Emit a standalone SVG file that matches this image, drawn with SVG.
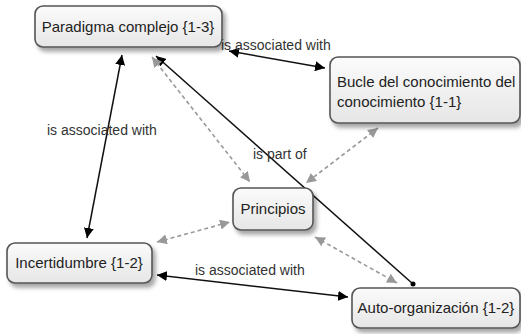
<svg xmlns="http://www.w3.org/2000/svg" width="521" height="334" viewBox="0 0 521 334">
<style>
.node rect{fill:url(#g);stroke:#555;stroke-width:1.6;filter:url(#sh)}
.node text{font-family:"Liberation Sans",Arial,sans-serif;font-size:15px;fill:#222}
.lbl{font-family:"Liberation Sans",Arial,sans-serif;font-size:14px;fill:#333}
.solid{stroke:#111;stroke-width:1.5;fill:none}
.dash{stroke:#999;stroke-width:1.6;stroke-dasharray:4 3;fill:none}
</style>
<defs>
<linearGradient id="g" x1="0" y1="0" x2="0" y2="1"><stop offset="0" stop-color="#fbfbfb"/><stop offset="1" stop-color="#e6e6e6"/></linearGradient>
<filter id="sh" x="-10%" y="-20%" width="130%" height="160%"><feDropShadow dx="3" dy="4" stdDeviation="2" flood-color="#000" flood-opacity="0.35"/></filter>
<marker id="ab" viewBox="0 0 10 10" refX="10" refY="5" markerWidth="10" markerHeight="10" markerUnits="userSpaceOnUse" orient="auto-start-reverse"><path d="M0,0L10,5L0,10z" fill="#000"/></marker>
<marker id="ag" viewBox="0 0 10 10" refX="10" refY="5" markerWidth="10" markerHeight="10" markerUnits="userSpaceOnUse" orient="auto-start-reverse"><path d="M0,0L10,5L0,10z" fill="#999"/></marker>
</defs>
<g id="connectors">
<line class="solid" x1="122" y1="55" x2="87" y2="238" marker-start="url(#ab)" marker-end="url(#ab)"/>
<line class="solid" x1="229" y1="51" x2="325" y2="68" marker-start="url(#ab)" marker-end="url(#ab)"/>
<line class="solid" x1="413" y1="284" x2="156" y2="56" marker-end="url(#ab)"/>
<circle cx="413" cy="284" r="2.5" fill="#000"/>
<line class="solid" x1="157" y1="275" x2="348" y2="297" marker-start="url(#ab)" marker-end="url(#ab)"/>
<line class="dash" x1="152" y1="57" x2="250" y2="182" marker-start="url(#ag)" marker-end="url(#ag)"/>
<line class="dash" x1="378" y1="128" x2="306" y2="183" marker-start="url(#ag)" marker-end="url(#ag)"/>
<line class="dash" x1="157" y1="242" x2="230" y2="222" marker-start="url(#ag)" marker-end="url(#ag)"/>
<line class="dash" x1="315" y1="237" x2="397" y2="283" marker-start="url(#ag)" marker-end="url(#ag)"/>
<text class="lbl" x="47" y="135">is associated with</text>
<text class="lbl" x="221" y="50">is associated with</text>
<text class="lbl" x="253" y="159">is part of</text>
<text class="lbl" x="195" y="275">is associated with</text>
</g>
<g id="paradigma" class="node"><rect x="35" y="6" width="187" height="41" rx="8"/><text x="128" y="32" text-anchor="middle">Paradigma complejo {1-3}</text></g>
<g id="bucle" class="node"><rect x="330" y="57" width="190" height="66" rx="8"/><text x="337" y="87">Bucle del conocimiento del</text><text x="337" y="107">conocimiento {1-1}</text></g>
<g id="incertidumbre" class="node"><rect x="7" y="243" width="145" height="40" rx="8"/><text x="79" y="268" text-anchor="middle">Incertidumbre {1-2}</text></g>
<g id="principios" class="node"><rect x="233" y="188" width="80" height="42" rx="8"/><text x="273" y="214" text-anchor="middle">Principios</text></g>
<g id="autoorganizacion" class="node"><rect x="352" y="288" width="168" height="40" rx="8"/><text x="436" y="313" text-anchor="middle">Auto-organización {1-2}</text></g>
</svg>
